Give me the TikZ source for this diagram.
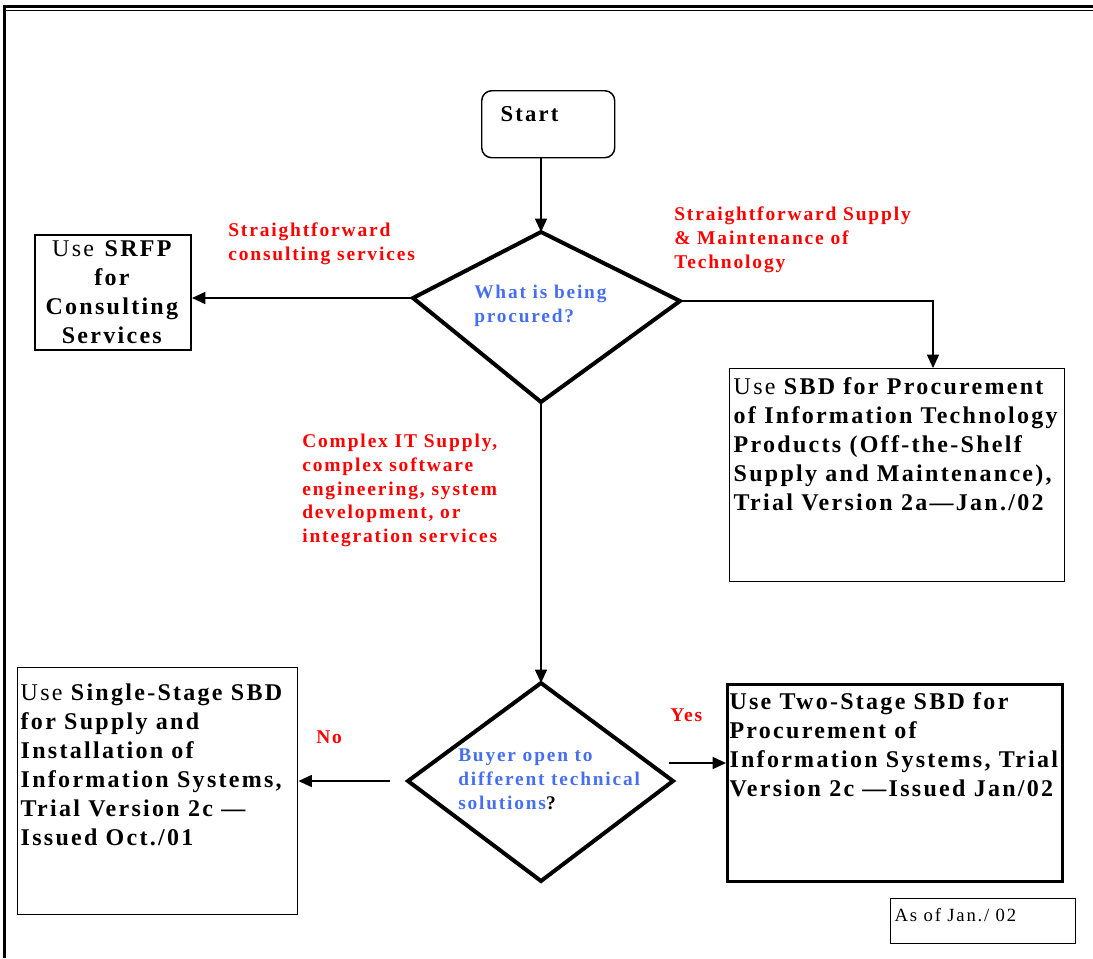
\documentclass[tikz,border=0pt]{standalone}
\usepackage{fontspec}
\setmainfont{Liberation Serif}[LetterSpace=9.5]
\usetikzlibrary{arrows.meta,positioning}

\definecolor{askblue}{RGB}{70,110,240}
\newcommand{\topbox}[5]{\parbox[c][#2][t]{#1}{\raggedright\leftskip=#3\relax\vspace*{#4}#5}}

\begin{document}
\begin{tikzpicture}[
    x=0.75pt, y=-0.75pt,
    >={Triangle[length=10pt,width=9pt]},
    every node/.style={inner sep=0pt},
    box/.style={
        draw,
        line width=1.1pt,
        anchor=north west,
        font=\fontsize{18pt}{21.75pt}\selectfont
    },
    decision/.style={line width=3pt, line join=miter},
    ask/.style={
        anchor=north west,
        align=left,
        text=askblue,
        font=\fontsize{14.5pt}{18pt}\selectfont\bfseries
    },
    choice/.style={
        anchor=north west,
        align=left,
        text=red,
        font=\fontsize{14.6pt}{17.8pt}\selectfont\bfseries
    },
    flow/.style={->, line width=1.1pt}
]
\useasboundingbox (0,0) rectangle (1093,958);

% page frame
\draw[line width=2pt] (3,6.8) -- (1093,6.8);
\draw[line width=0.75pt] (6,10) -- (1093,10);
\draw[line width=2pt] (4.7,6) -- (4.7,958);

% boxes
\node[box, rounded corners=7.5pt, font=\fontsize{17pt}{20pt}\selectfont\bfseries] (start) at (481,90)
    {\topbox{99.75pt}{50.25pt}{14.25pt}{12pt}{Start}};

\node[box, align=center, minimum width=117pt, minimum height=86.25pt, line width=1.5pt] (srfp) at (34,234)
    {Use \textbf{SRFP}\\ \textbf{for}\\ \textbf{Consulting}\\ \textbf{Services}};

\node[box] (sbd) at (729,368)
    {\topbox{251.25pt}{159.75pt}{3pt}{7pt}{Use \bfseries SBD for Procurement\\
     of Information Technology\\ Products (Off-the-Shelf\\
     Supply and Maintenance),\\ Trial Version 2a—Jan./02}};

\node[box] (single) at (17,667)
    {\topbox{210pt}{185.25pt}{2.25pt}{12pt}{Use \bfseries Single-Stage SBD\\
     for Supply and\\ Installation of\\ Information Systems,\\
     Trial Version 2c —\\ Issued Oct./01}};

\node[box, line width=2.25pt] (two) at (726,683)
    {\topbox{251.25pt}{147.75pt}{1.5pt}{6pt}{\bfseries Use Two-Stage SBD for\\
     Procurement of\\ Information Systems, Trial\\ Version 2c —Issued Jan/02}};

\node[box, font=\fontsize{14pt}{17pt}\selectfont] (asof) at (890,898)
    {\topbox{138.75pt}{33.75pt}{3pt}{7pt}{As of Jan./ 02}};

% decisions
\coordinate (q1n) at (541,232);
\coordinate (q1e) at (680,301);
\coordinate (q1s) at (541,402);
\coordinate (q1w) at (413,298);
\draw[decision] (q1n) -- (q1e) -- (q1s) -- (q1w) -- cycle;
\node[ask] (q1) at (474,285) {What is being\\procured?};

\coordinate (q2n) at (541,683);
\coordinate (q2e) at (673,781);
\coordinate (q2s) at (541,881);
\coordinate (q2w) at (408,781);
\draw[decision] (q2n) -- (q2e) -- (q2s) -- (q2w) -- cycle;
\node[ask] (q2) at (458,749) {Buyer open to\\different technical\\solutions\textcolor{black}{?}};

% connectors
\coordinate (sbdin) at (933,368);
\coordinate (nofrom) at (390,781);
\coordinate (yesfrom) at (669,763);

\draw[flow] (start.south -| q1n) -- (q1n);
\draw[flow] (q1w) -- (q1w -| srfp.east);
\draw[flow] (q1e) -| (sbdin);
\draw[flow] (q1s) -- (q2n);
\draw[flow] (nofrom) -- (nofrom -| single.east);
\draw[flow] (yesfrom) -- (yesfrom -| two.west);

% branch labels
\node[choice] (consult) at (228,223) {Straightforward\\consulting services};
\node[choice] (supply) at (674,207) {Straightforward Supply\\\& Maintenance of\\Technology};
\node[choice] (complex) at (302,434) {Complex IT Supply,\\complex software\\engineering, system\\development, or\\integration services};
\node[choice] (yes) at (670,708) {Yes};
\node[choice] (no) at (316,730) {No};

\end{tikzpicture}
\end{document}
